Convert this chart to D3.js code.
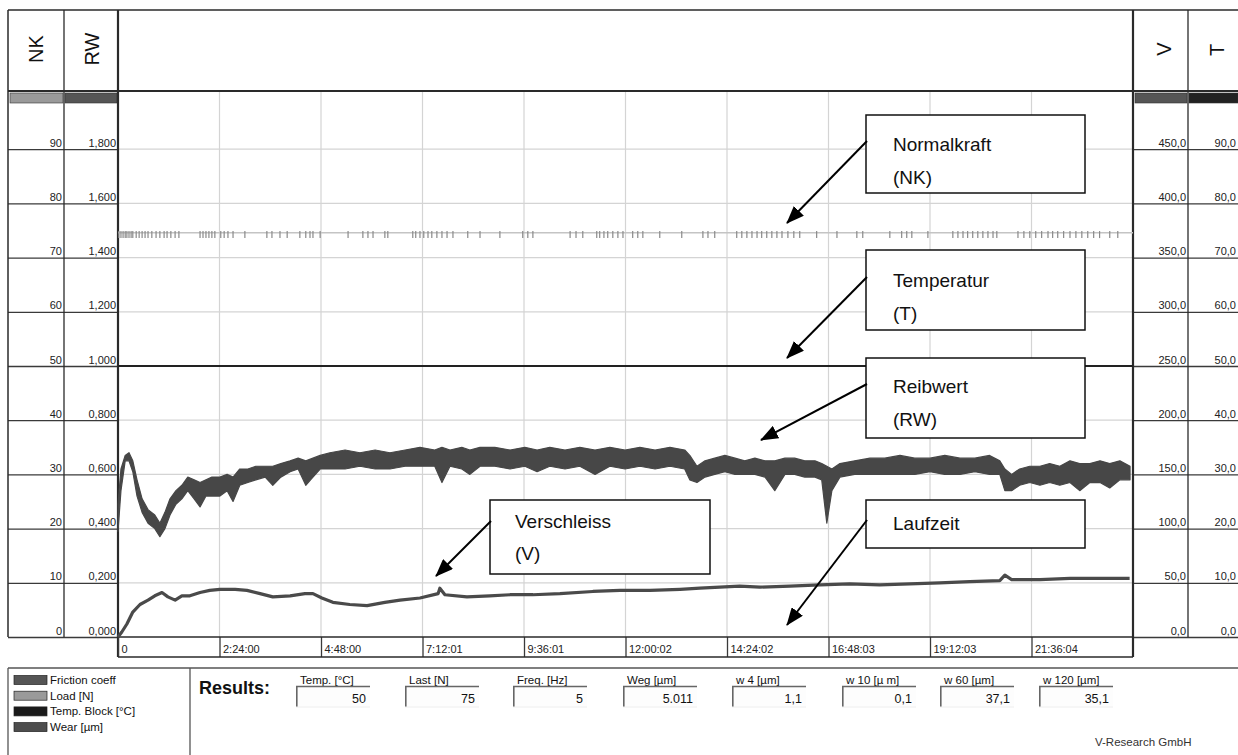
<!DOCTYPE html>
<html><head><meta charset="utf-8">
<script src="https://cdn.jsdelivr.net/npm/d3@7"></script>
<style>body{margin:0;background:#fff}svg{display:block;font-family:"Liberation Sans",Arial,sans-serif}</style>
</head><body><svg id="c" width="1238" height="755"></svg>
<script>
// ---------- DATA ----------
const nkTicks = [0,10,20,30,40,50,60,70,80,90];
const rwTicks = [0,0.2,0.4,0.6,0.8,1.0,1.2,1.4,1.6,1.8];
const vTicks  = [0,50,100,150,200,250,300,350,400,450];
const tTicks  = [0,10,20,30,40,50,60,70,80,90];
const xTickHours  = [0,2.4,4.8,7.2,9.6,12,14.4,16.8,19.2,21.6];
const xTickLabels = ["0","2:24:00","4:48:00","7:12:01","9:36:01","12:00:02","14:24:02","16:48:03","19:12:03","21:36:04"];

// Friction coefficient (RW): time [h], upper and lower envelope of the noisy trace
const frTime = [0,0.07,0.17,0.26,0.35,0.45,0.57,0.71,0.87,0.99,
1.11,1.23,1.37,1.51,1.65,1.80,1.94,2.08,2.22,2.41,
2.58,2.72,2.88,3.07,3.26,3.48,3.66,3.85,4.07,4.26,
4.44,4.61,4.78,5.01,5.37,5.72,6.08,6.43,6.79,7.14,
7.49,7.66,7.85,8.13,8.32,8.56,8.91,9.27,9.62,9.91,
10.21,10.57,10.92,11.28,11.63,11.99,12.34,12.70,13.05,13.40,
13.52,13.69,13.88,14.11,14.35,14.59,14.82,15.06,15.30,15.53,
15.77,16.00,16.24,16.48,16.64,16.76,16.88,17.07,17.42,17.78,
18.13,18.49,18.84,19.20,19.55,19.91,20.26,20.61,20.85,20.97,
21.13,21.32,21.56,21.80,22.03,22.27,22.51,22.74,22.98,23.22,
23.45,23.69,23.93];
const frHi = [0.49,0.62,0.67,0.68,0.65,0.58,0.51,0.47,0.45,0.42,
0.46,0.51,0.54,0.56,0.59,0.58,0.57,0.58,0.59,0.59,
0.60,0.59,0.62,0.62,0.63,0.63,0.63,0.64,0.65,0.66,
0.65,0.66,0.67,0.68,0.69,0.68,0.69,0.68,0.69,0.70,
0.69,0.70,0.69,0.70,0.69,0.70,0.70,0.69,0.70,0.69,
0.70,0.69,0.70,0.69,0.70,0.69,0.70,0.69,0.70,0.69,
0.67,0.63,0.65,0.66,0.67,0.66,0.65,0.66,0.65,0.65,
0.66,0.66,0.65,0.65,0.64,0.63,0.62,0.64,0.65,0.66,
0.66,0.67,0.66,0.66,0.67,0.66,0.66,0.67,0.65,0.62,
0.60,0.62,0.63,0.63,0.64,0.63,0.65,0.64,0.64,0.65,
0.64,0.65,0.63];
const frLo = [0.39,0.54,0.65,0.65,0.61,0.52,0.46,0.42,0.40,0.37,
0.40,0.45,0.49,0.51,0.54,0.51,0.48,0.52,0.52,0.52,
0.54,0.50,0.56,0.57,0.58,0.59,0.56,0.59,0.61,0.62,
0.56,0.59,0.62,0.62,0.62,0.63,0.62,0.62,0.63,0.63,
0.63,0.57,0.63,0.62,0.60,0.63,0.63,0.62,0.63,0.61,
0.63,0.62,0.63,0.60,0.63,0.62,0.63,0.62,0.63,0.62,
0.58,0.57,0.59,0.60,0.61,0.60,0.60,0.60,0.59,0.54,
0.60,0.60,0.59,0.59,0.58,0.42,0.54,0.59,0.60,0.60,
0.60,0.60,0.60,0.61,0.60,0.60,0.61,0.60,0.60,0.54,
0.54,0.56,0.57,0.56,0.57,0.56,0.57,0.54,0.57,0.57,
0.55,0.58,0.58];

// Wear (V) in µm
const wearTime = [0,0.09,0.21,0.35,0.52,0.71,0.87,1.04,1.18,1.35,
1.51,1.70,1.94,2.17,2.41,2.77,3.05,3.36,3.66,4.07,
4.42,4.61,4.82,5.08,5.48,5.89,6.31,6.67,7.14,7.57,
7.61,7.73,8.25,8.79,9.27,9.81,10.45,11.23,11.87,12.58,
13.29,13.76,14.23,14.70,15.18,15.89,16.60,17.30,18.01,18.72,
19.43,20.14,20.85,20.97,21.13,21.80,22.51,23.22,23.92];
const wearVal = [0,4.6,12,23,30,34,38,41,37,34,
38,38,41,43,44,44,43,40,37,38,
40,40,36,32,30,29,32,34,36,40,
45,39,37,38,39,39,40,42,43,43,
44,45,46,47,46,47,48,49,48,49,
50,51,52,57,53,53,54,54,54];

// Load (NK): nominal level and times of the short load dips [h]
const loadLevel = 74.6;
const loadDipLow = 73.6;
const loadDipTimes = [0.02,0.07,0.12,0.17,0.21,0.26,0.31,0.35,0.43,0.50,0.57,0.64,0.71,0.80,0.90,0.99,1.09,1.16,1.25,1.35,1.44,
1.94,2.01,2.08,2.15,2.22,2.29,2.43,2.51,2.60,2.72,3.00,3.52,3.64,3.83,4.00,4.30,4.44,4.54,4.61,4.78,
5.44,5.79,5.91,6.03,6.31,6.38,6.97,7.04,7.14,7.23,7.33,7.42,7.54,7.66,7.78,7.92,8.27,8.56,9.03,
9.57,9.69,9.81,10.69,10.83,10.99,11.32,11.39,11.49,11.58,11.70,11.82,11.94,12.17,12.29,12.41,12.81,
13.33,13.83,13.95,14.11,14.63,14.75,14.87,14.99,15.11,15.22,15.34,15.46,15.58,15.70,15.84,15.98,16.12,
16.52,17.00,17.47,17.61,18.25,18.53,18.65,18.77,19.15,19.74,19.86,19.98,20.09,20.21,20.33,20.45,20.57,
20.69,20.78,21.28,21.42,21.56,21.70,21.84,21.99,22.10,22.22,22.36,22.51,22.65,22.79,22.93,23.07,23.21,
23.45,23.64];

// Temperature (T) block [°C]
const tempTime = [0,24];
const tempVal  = [50,50];

// Legend
const legendLabels = ["Friction coeff","Load [N]","Temp. Block [°C]","Wear [µm]"];
const legendColors = ["#555555","#9a9a9a","#1a1a1a","#4d4d4d"];

// Results fields
const resultLabels = ["Temp. [°C]","Last [N]","Freq. [Hz]","Weg [µm]","w 4 [µm]","w 10 [µ m]","w 60 [µm]","w 120 [µm]"];
const resultValues = ["50","75","5","5.011","1,1","0,1","37,1","35,1"];

// Annotations
const annoLines = [["Normalkraft","(NK)"],["Temperatur","(T)"],["Reibwert","(RW)"],["Verschleiss","(V)"],["Laufzeit"]];

// ---------- LAYOUT ----------
const svg = d3.select("#c");
const L = 118, R = 1133, BOT = 637, TOPV = 95;
const FONT = '"Liberation Sans", Arial, sans-serif';
const x   = d3.scaleLinear().domain([0,24]).range([L,R]);
const yNK = d3.scaleLinear().domain([0,100]).range([BOT,TOPV]);
const yRW = d3.scaleLinear().domain([0,2]).range([BOT,TOPV]);
const yV  = d3.scaleLinear().domain([0,500]).range([BOT,TOPV]);
const yT  = d3.scaleLinear().domain([0,100]).range([BOT,TOPV]);

svg.append("rect").attr("width",1238).attr("height",755).attr("fill","#fff");

// plot gridlines
const grid = svg.append("g");
grid.selectAll("line.h").data(nkTicks.filter(d=>d>0)).join("line")
  .attr("x1",L).attr("x2",R).attr("y1",d=>yNK(d)).attr("y2",d=>yNK(d))
  .attr("stroke","#d4d4d4").attr("stroke-width",1.2);
grid.selectAll("line.v").data(xTickHours.filter(d=>d>0)).join("line")
  .attr("x1",d=>x(d)).attr("x2",d=>x(d)).attr("y1",92).attr("y2",BOT)
  .attr("stroke","#d4d4d4").attr("stroke-width",1.2);

// axis columns
function colAxis(scale, ticks, fmt, xRight, width){
  const g = svg.append("g").attr("transform",`translate(${xRight},0)`)
    .call(d3.axisLeft(scale).tickValues(ticks).tickFormat(fmt).tickSize(width));
  g.select(".domain").remove();
  g.attr("font-family",FONT).attr("font-size",11);
  g.selectAll(".tick line").attr("stroke","#3a3a3a").attr("stroke-width",1.3);
  g.selectAll(".tick text").attr("x",-2).attr("dy","-3").attr("text-anchor","end").attr("fill","#222");
  return g;
}
const comma = f => d => d3.format(f)(d).replace(".",",");
colAxis(yNK, nkTicks, d3.format("d"), 64, 56);
colAxis(yRW, rwTicks, comma(".3f"), 118, 54);
colAxis(yV,  vTicks,  comma(".1f"), 1188, 55);
colAxis(yT,  tTicks,  comma(".1f"), 1238, 50);

// colour bars under header
const bars = [[10,63,"#9a9a9a"],[65,117,"#555"],[1135,1187,"#555"],[1189,1238,"#222"]];
svg.selectAll("rect.bar").data(bars).join("rect")
  .attr("x",d=>d[0]).attr("y",93).attr("width",d=>d[1]-d[0]).attr("height",10)
  .attr("fill",d=>d[2]).attr("stroke","#333").attr("stroke-width",0.6);

// header & frame lines
const ln = (x1,y1,x2,y2,w,c) => svg.append("line").attr("x1",x1).attr("y1",y1).attr("x2",x2).attr("y2",y2)
  .attr("stroke",c||"#2a2a2a").attr("stroke-width",w||1.3);
ln(8,10,1238,10,1.5);
ln(8,91,1238,91,2.2);
ln(8,10,8,BOT,1.5);
ln(64,10,64,BOT,1.3);
ln(1188,10,1188,BOT,1.3);
ln(L,10,L,657,2.2);
ln(R,10,R,657,2.2);

// header texts
const hdr = [["NK",36,49],["RW",92,49],["V",1164,49],["T",1217,50]];
svg.selectAll("text.hdr").data(hdr).join("text")
  .attr("transform",d=>`translate(${d[1]},${d[2]}) rotate(-90)`)
  .attr("text-anchor","middle").attr("dy","0.35em")
  .attr("font-family",FONT).attr("font-size",20).attr("fill","#111").text(d=>d[0]);

// x axis row
const gx = svg.append("g").attr("transform",`translate(0,${BOT})`)
  .call(d3.axisBottom(x).tickValues(xTickHours).tickFormat((d,i)=>xTickLabels[i]).tickSize(20));
gx.select(".domain").remove();
gx.attr("font-family",FONT).attr("font-size",11);
gx.selectAll(".tick line").attr("stroke","#3a3a3a").attr("stroke-width",1.3);
gx.selectAll(".tick text").attr("x",3).attr("y",16).attr("dy",0).attr("text-anchor","start").attr("fill","#222");
ln(L,BOT,R,BOT,1.5);
ln(L,657,R,657,1.5);

// ---------- SERIES ----------
// Load
svg.append("line").attr("x1",x(0)).attr("x2",x(24)).attr("y1",yNK(loadLevel)).attr("y2",yNK(loadLevel))
  .attr("stroke","#c4c4c4").attr("stroke-width",1.5);
svg.append("g").selectAll("line").data(loadDipTimes).join("line")
  .attr("x1",d=>x(d)).attr("x2",d=>x(d)).attr("y1",yNK(loadLevel+0.3)).attr("y2",yNK(loadDipLow))
  .attr("stroke","#8a8a8a").attr("stroke-width",1.2);

// Temperature
svg.append("path").datum(d3.range(tempTime.length))
  .attr("d",d3.line().x(i=>x(tempTime[i])).y(i=>yT(tempVal[i])))
  .attr("stroke","#222").attr("stroke-width",2.2).attr("fill","none");

// Friction envelope
const frIdx = d3.range(frTime.length);
svg.append("path").datum(frIdx)
  .attr("d",d3.area().x(i=>x(frTime[i])).y0(i=>yRW(frLo[i])).y1(i=>yRW(frHi[i])))
  .attr("fill","#474747").attr("stroke","#474747").attr("stroke-width",1.2).attr("stroke-linejoin","round");

// Wear
svg.append("path").datum(d3.range(wearTime.length))
  .attr("d",d3.line().x(i=>x(wearTime[i])).y(i=>yV(wearVal[i])))
  .attr("stroke","#4a4a4a").attr("stroke-width",3.2).attr("fill","none").attr("stroke-linejoin","round");

// ---------- ANNOTATIONS ----------
const defs = svg.append("defs");
defs.append("marker").attr("id","ah").attr("markerUnits","userSpaceOnUse")
  .attr("markerWidth",18).attr("markerHeight",14).attr("refX",17).attr("refY",7).attr("orient","auto")
  .append("path").attr("d","M0,0 L18,7 L0,14 Z").attr("fill","#000");
const annoBoxes = [[866,115,219,78],[866,250,219,80],[866,358,219,80],[490,500,220,74],[866,500,219,48]];
const annoArrows = [[867,141,787,223],[867,277,787,358],[867,384,761,440],[491,521,436,576],[867,520,787,625]];
const annoTextX = [893,893,893,515,893];
const annoBase = [[151,184],[287,320],[393,426],[528,560],[530]];
annoBoxes.forEach((b,k)=>{
  svg.append("rect").attr("x",b[0]).attr("y",b[1]).attr("width",b[2]).attr("height",b[3])
    .attr("fill","#fff").attr("stroke","#111").attr("stroke-width",1.5);
  const a = annoArrows[k];
  svg.append("line").attr("x1",a[0]).attr("y1",a[1]).attr("x2",a[2]).attr("y2",a[3])
    .attr("stroke","#000").attr("stroke-width",2).attr("marker-end","url(#ah)");
  annoLines[k].forEach((t,j)=>{
    svg.append("text").attr("x",annoTextX[k]).attr("y",annoBase[k][j])
      .attr("font-family",FONT).attr("font-size",19).attr("fill","#111").text(t);
  });
});

// ---------- BOTTOM PANEL ----------
ln(8,668,1238,668,1.6,"#555");
ln(8,668,8,755,1.3,"#555");
ln(190,668,190,755,1.3,"#555");
const lg = svg.append("g");
legendLabels.forEach((lab,i)=>{
  const cy = 680 + i*15.7;
  lg.append("rect").attr("x",14).attr("y",cy-4.5).attr("width",33).attr("height",9)
    .attr("fill",legendColors[i]).attr("stroke","#222").attr("stroke-width",0.7);
  lg.append("text").attr("x",50).attr("y",cy+4).attr("font-family",FONT).attr("font-size",11.5)
    .attr("fill","#111").text(lab);
});
svg.append("text").attr("x",199).attr("y",694).attr("font-family",FONT).attr("font-size",18)
  .attr("font-weight","bold").attr("fill","#111").text("Results:");
const boxX = [296,405,513,623,732,842,940,1039];
resultLabels.forEach((lab,i)=>{
  const bx = boxX[i], bw = 74;
  svg.append("text").attr("x",bx+4).attr("y",684).attr("font-family",FONT).attr("font-size",11.5)
    .attr("fill","#111").text(lab);
  svg.append("rect").attr("x",bx).attr("y",686).attr("width",bw).attr("height",21).attr("fill","#fdfdfd");
  ln(bx,686.5,bx+bw,686.5,1.6,"#666");
  ln(bx+0.8,686,bx+0.8,707,1.6,"#666");
  ln(bx,707,bx+bw,707,1,"#eee");
  svg.append("text").attr("x",bx+bw-4).attr("y",703).attr("text-anchor","end")
    .attr("font-family",FONT).attr("font-size",12.5).attr("fill","#111").text(resultValues[i]);
});
svg.append("text").attr("x",1095).attr("y",746).attr("font-family",FONT).attr("font-size",11.5)
  .attr("fill","#333").text("V-Research GmbH");
</script>
</body></html>
